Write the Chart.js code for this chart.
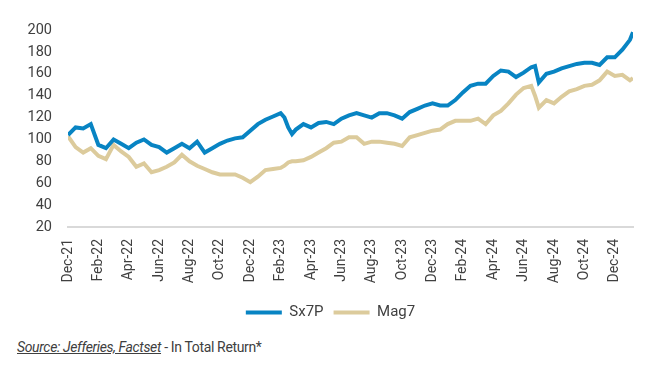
<!DOCTYPE html>
<html>
<head>
<meta charset="utf-8">
<script src="https://cdn.jsdelivr.net/npm/chart.js@4"></script>
<style>
  html, body { margin: 0; padding: 0; background: #fff; }
  .wrap { position: relative; width: 658px; height: 366px; }
  .chart-box { position: absolute; left: 0; top: 0; width: 658px; height: 330px; }
  .source {
    position: absolute; left: 17px; top: 339px;
    font-family: Roboto, sans-serif;
    font-size: 14px; letter-spacing: -0.35px; color: #404040; white-space: nowrap;
  }
  .source span { font-style: italic; text-decoration: underline; }
</style>
</head>
<body>
<div class="wrap">
  <div class="chart-box"><canvas id="chart"></canvas></div>
  <div class="source"><span>Source: Jefferies, Factset</span> - In Total Return*</div>
</div>
<script>
// months since Dec-21 (half-month steps, a few extra points at sharp moves)
const months = [
  0, 0.5, 1, 1.5, 2, 2.5, 3, 3.5, 4, 4.5, 5, 5.5, 6, 6.5, 7, 7.5, 8, 8.5, 9, 9.5,
  10, 10.5, 11, 11.5, 12, 12.5, 13, 13.5, 14, 14.25, 14.5, 14.75, 15, 15.5, 16, 16.5,
  17, 17.5, 18, 18.5, 19, 19.5, 20, 20.5, 21, 21.5, 22, 22.5, 23, 23.5, 24, 24.5,
  25, 25.5, 26, 26.5, 27, 27.5, 28, 28.5, 29, 29.5, 30, 30.5, 30.75, 31, 31.5, 32,
  32.5, 33, 33.5, 34, 34.5, 35, 35.5, 36, 36.5, 37, 37.2
];

const sx7p = [
  104, 111, 110, 114, 95, 92, 100, 96, 92, 97, 100, 95, 93, 88, 92, 96, 92, 98, 88, 92,
  96, 99, 101, 102, 108, 114, 118, 121, 124, 120, 111, 105, 109, 114, 111, 115,
  116, 114, 119, 122, 124, 122, 120, 124, 124, 122, 119, 125, 128, 131, 133, 131,
  131, 136, 143, 149, 151, 151, 158, 163, 162, 157, 161, 166, 167, 152, 160, 162,
  165, 167, 169, 170, 170, 168, 175, 175, 182, 191, 198
];

const mag7 = [
  103, 93, 88, 92, 85, 82, 95, 89, 84, 75, 78, 70, 72, 75, 79, 86, 80, 76, 73, 70,
  68, 68, 68, 65, 61, 66, 72, 73, 74, 76, 79, 80, 80, 81, 84, 88,
  92, 97, 98, 102, 102, 96, 98, 98, 97, 96, 94, 102, 104, 106, 108, 109,
  114, 117, 117, 117, 119, 114, 122, 126, 133, 141, 147, 149, 140, 129, 136, 133,
  139, 144, 146, 149, 150, 154, 162, 158, 159, 154, 156
];

const tickLabels = [
  'Dec-21', 'Feb-22', 'Apr-22', 'Jun-22', 'Aug-22', 'Oct-22', 'Dec-22', 'Feb-23', 'Apr-23',
  'Jun-23', 'Aug-23', 'Oct-23', 'Dec-23', 'Feb-24', 'Apr-24', 'Jun-24', 'Aug-24', 'Oct-24', 'Dec-24'
];

const BLUE = '#0884c3';
const BEIGE = '#dccb9c';
const TEXT = '#404040';

const toPoints = vals => vals.map((v, i) => ({ x: months[i], y: v }));

// the original legend sits a little right of the canvas centre
const legendShift = {
  id: 'legendShift',
  afterLayout(chart) {
    if (!chart.legend) return;
    chart.legend.left += 14;
    chart.legend.right += 14;
  }
};

new Chart(document.getElementById('chart'), {
  type: 'line',
  data: {
    datasets: [
      { label: 'Sx7P', data: toPoints(sx7p), borderColor: BLUE, backgroundColor: BLUE, borderWidth: 4, pointRadius: 0, tension: 0 },
      { label: 'Mag7', data: toPoints(mag7), borderColor: BEIGE, backgroundColor: BEIGE, borderWidth: 4, pointRadius: 0, tension: 0 }
    ]
  },
  plugins: [legendShift],
  options: {
    responsive: true,
    maintainAspectRatio: false,
    animation: false,
    layout: { padding: { top: 30, right: 25, left: 0, bottom: 0 } },
    plugins: {
      tooltip: { enabled: false },
      legend: {
        position: 'bottom',
        labels: {
          boxWidth: 36,
          boxHeight: 4,
          padding: 10,
          color: TEXT,
          font: { family: 'Roboto', size: 15 },
          generateLabels(chart) {
            return Chart.defaults.plugins.legend.labels.generateLabels(chart).map(l => ({ ...l, lineWidth: 0 }));
          }
        }
      }
    },
    scales: {
      x: {
        type: 'linear',
        min: 0,
        max: 37.2,
        grid: { display: false },
        border: { display: true, color: '#d9d9d9', width: 2 },
        afterFit(scale) { scale.height = 68; },
        ticks: {
          stepSize: 2,
          includeBounds: false,
          autoSkip: false,
          minRotation: 90,
          maxRotation: 90,
          padding: 4,
          color: TEXT,
          font: { family: 'Roboto', size: 14 },
          callback: v => (v % 2 === 0 ? tickLabels[v / 2] : '')
        }
      },
      y: {
        min: 20,
        max: 200,
        grid: { display: false },
        border: { display: false },
        afterFit(scale) { scale.width = 68; },
        ticks: {
          stepSize: 20,
          padding: 8,
          color: TEXT,
          font: { family: 'Roboto', size: 14.5 }
        }
      }
    }
  }
});
</script>
</body>
</html>
